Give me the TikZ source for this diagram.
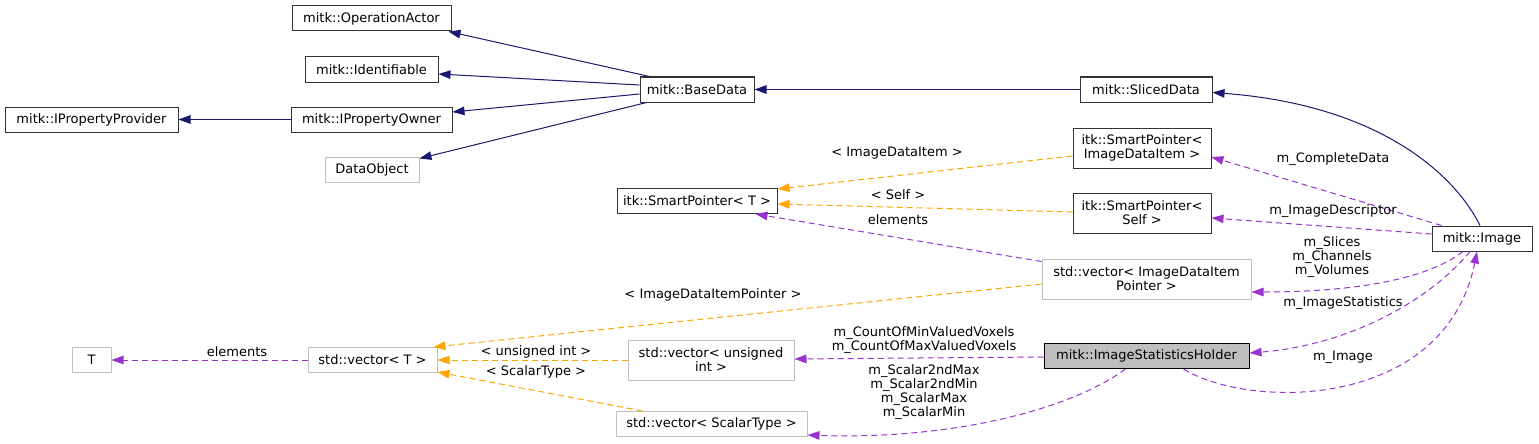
\documentclass[tikz,border=0pt]{standalone}
\usepackage{fontspec}
\setmainfont{DejaVu Sans}
\usetikzlibrary{arrows.meta}
\definecolor{inhblue}{HTML}{191970}
\definecolor{tplorange}{HTML}{FFA500}
\definecolor{usepurple}{HTML}{9A32CD}
\definecolor{extgray}{HTML}{BFBFBF}
\begin{document}
\begin{tikzpicture}[x=1pt, y=-1pt,
        font=\fontsize{13}{14}\selectfont,
        box/.style={draw, line width=1pt, minimum height=25pt, inner sep=0pt, align=center, fill=white},
        cls/.style={box, draw=black!80},
        ext/.style={box, draw=extgray},
        focus/.style={box, draw=black, fill=extgray},
        lbl/.style={inner sep=0pt, align=center},
        inherit/.style={-{Triangle[length=12pt,width=8.5pt]}, draw=inhblue, line width=1pt},
        tmpl/.style={-{Triangle[length=12pt,width=8.5pt]}, draw=tplorange, line width=1pt, dash pattern=on 6pt off 4pt},
        usage/.style={-{Triangle[length=12pt,width=8.5pt]}, draw=usepurple, line width=1pt, dash pattern=on 6pt off 4pt}
    ]
        \path[fill=white] (0,0) rectangle (1539,444);
        \useasboundingbox (0,0) rectangle (1539,444);

        % Base classes
        \node[cls, minimum width=159pt] (OpActor) at (371.5,18.5) {mitk::OperationActor};
        \node[cls, minimum width=133pt] (Identifiable) at (371.5,69.5) {mitk::Identifiable};
        \node[cls, minimum width=173pt] (IPropProvider) at (91.5,119.5) {mitk::IPropertyProvider};
        \node[cls, minimum width=161pt] (IPropOwner) at (371.5,119.5) {mitk::IPropertyOwner};
        \node[ext, minimum width=94pt] (DataObject) at (372,169.5) {DataObject};
        \node[cls, minimum width=114pt] (BaseData) at (697,89.5) {mitk::BaseData};
        \node[cls, minimum width=132pt] (SlicedData) at (1146,89.5) {mitk::SlicedData};

        % Smart pointers
        \node[cls, minimum width=138pt, minimum height=40pt] (SPItem) at (1142,148) {itk::SmartPointer<\\ImageDataItem >};
        \node[cls, minimum width=138pt, minimum height=40pt] (SPSelf) at (1142,213) {itk::SmartPointer<\\Self >};
        \node[cls, minimum width=160pt] (SPT) at (697,201) {itk::SmartPointer< T >};

        % Image and statistics
        \node[cls, minimum width=100pt] (Image) at (1482,238.5) {mitk::Image};
        \node[ext, minimum width=209pt, minimum height=40pt] (VecItemPtr) at (1146.5,279) {std::vector< ImageDataItem\\Pointer >};
        \node[focus, minimum width=205pt] (StatsHolder) at (1146.5,356) {mitk::ImageStatisticsHolder};

        % Vectors
        \node[ext, minimum width=39pt] (TParam) at (91.5,360) {T};
        \node[ext, minimum width=129pt] (VecT) at (372.5,360) {std::vector< T >};
        \node[ext, minimum width=166pt, minimum height=40pt] (VecUInt) at (711,360) {std::vector< unsigned\\int >};
        \node[ext, minimum width=191pt] (VecScalar) at (711.5,424) {std::vector< ScalarType >};

        % Inheritance
        \draw[inherit] ([xshift=10pt]BaseData.north west) -- ([xshift=-3pt]OpActor.south east);
        \draw[inherit] ([yshift=4.5pt]BaseData.west) -- ([yshift=-4.5pt]Identifiable.east);
        \draw[inherit] ([yshift=-4.5pt]BaseData.west) -- ([yshift=7.5pt]IPropOwner.east);
        \draw[inherit] ([xshift=7pt]BaseData.south west) -- ([yshift=-2pt]DataObject.north east);
        \draw[inherit] (IPropOwner.west) -- (IPropProvider.east);
        \draw[inherit] (SlicedData.west) -- (BaseData.east);
        \draw[inherit] ([xshift=-2pt]Image.north) .. controls (1455,175) and (1380,105) .. ([yshift=-3pt]SlicedData.east);

        % Template instances
        \draw[tmpl] ([yshift=-8pt]SPItem.west) -- ([yshift=-1pt]SPT.north east);
        \draw[tmpl] ([yshift=1pt]SPSelf.west) -- ([yshift=-3pt]SPT.east);
        \draw[tmpl] ([yshift=-5pt]VecItemPtr.west) -- ([xshift=-4pt]VecT.north east);
        \draw[tmpl] (VecUInt.west) -- (VecT.east);
        \draw[tmpl] ([xshift=27pt]VecScalar.north west) -- ([yshift=1pt]VecT.south east);
        \node[lbl] (lblItem) at (897,153) {< ImageDataItem >};
        \node[lbl] (lblSelf) at (898,195) {< Self >};
        \node[lbl] (lblItemPtr) at (713,295) {< ImageDataItemPointer >};
        \node[lbl] (lblUInt) at (536,352) {< unsigned int >};
        \node[lbl] (lblScalarT) at (536,372) {< ScalarType >};

        % Usage
        \draw[usage] (VecT.west) -- (TParam.east);
        \draw[usage] ([yshift=-3pt]VecItemPtr.north west) -- ([xshift=-22pt]SPT.south east);
        \draw[usage] ([xshift=10pt]Image.north west) -- ([yshift=-9pt]SPItem.east);
        \draw[usage] ([yshift=4.5pt]Image.west) -- ([yshift=-5pt]SPSelf.east);
        \draw[usage] ([xshift=-19pt]Image.south) .. controls (1420,285) and (1330,292) .. ([yshift=-13pt]VecItemPtr.east);
        \draw[usage] ([xshift=-12pt]Image.south) .. controls (1430,300) and (1350,345) .. ([yshift=3pt]StatsHolder.east);
        \draw[usage] ([xshift=37pt]StatsHolder.south) .. controls (1250,410) and (1445,410) .. ([xshift=-5pt]Image.south);
        \draw[usage] ([yshift=-1pt]StatsHolder.west) -- ([yshift=1pt]VecUInt.east);
        \draw[usage] ([xshift=-21pt]StatsHolder.south) .. controls (1070,410) and (950,440) .. ([yshift=-11pt]VecScalar.east);
        \node[lbl] (lblElemT) at (237,352) {elements};
        \node[lbl] (lblElemSP) at (898,220) {elements};
        \node[lbl] (lblComplete) at (1333,159) {m\_CompleteData};
        \node[lbl] (lblDescriptor) at (1333,211) {m\_ImageDescriptor};
        \node[lbl] (lblSlices) at (1332,257) {m\_Slices\\m\_Channels\\m\_Volumes};
        \node[lbl] (lblStats) at (1343,303) {m\_ImageStatistics};
        \node[lbl] (lblImage) at (1343,357) {m\_Image};
        \node[lbl] (lblCount) at (924,340.5) {m\_CountOfMinValuedVoxels\\m\_CountOfMaxValuedVoxels};
        \node[lbl] (lblScalar) at (924,392.5) {m\_Scalar2ndMax\\m\_Scalar2ndMin\\m\_ScalarMax\\m\_ScalarMin};

    \end{tikzpicture}
\end{document}
